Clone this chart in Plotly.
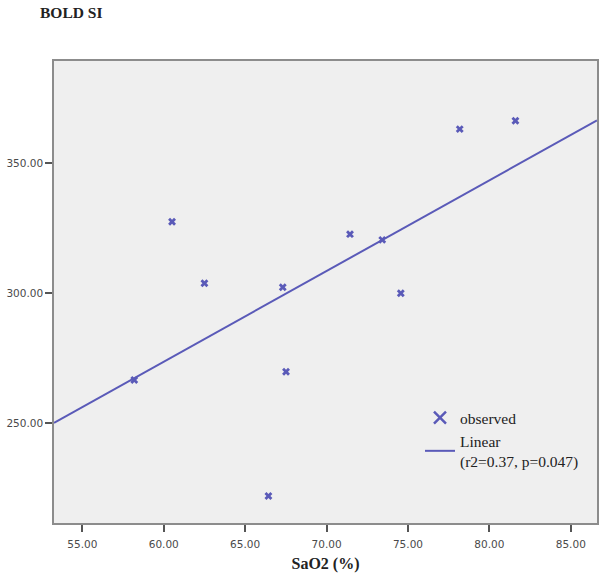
import numpy as np
import plotly.graph_objects as go

# Data
sao2 = [60.51, 62.50, 58.19, 67.31, 67.51, 66.43, 71.44, 73.42, 74.56, 78.18, 81.60]
bold_si = [327.4, 303.7, 266.5, 302.2, 269.7, 221.9, 322.6, 320.4, 299.9, 363.0, 366.2]
x_range = [53.26, 86.61]
y_range = [211.5, 389.2]
x_ticks = [55, 60, 65, 70, 75, 80, 85]
y_ticks = [250, 300, 350]
fit_label = "Linear<br>(r2=0.37, p=0.047)"

color = "#5a5ab8"

slope, intercept = np.polyfit(sao2, bold_si, 1)
line_x = np.array(x_range)
line_y = slope * line_x + intercept

fig = go.Figure()
fig.add_trace(go.Scatter(
    x=sao2, y=bold_si, mode="markers",
    marker=dict(symbol="x", size=7, color=color, line=dict(width=0)),
    showlegend=False, hoverinfo="skip"))
fig.add_trace(go.Scatter(
    x=[None], y=[None], mode="markers", name="observed",
    marker=dict(symbol="x-thin-open", size=12, color=color, line=dict(width=2.5, color=color))))
fig.add_trace(go.Scatter(
    x=line_x, y=line_y, mode="lines", name=fit_label,
    line=dict(color=color, width=2)))

axis_common = dict(
    showgrid=False, zeroline=False, showline=True, mirror=True,
    linecolor="#8c8c8c", linewidth=1.5,
    ticks="outside", ticklen=7, tickwidth=1.5, tickcolor="#555555",
    tickformat=".2f", automargin=False,
    tickfont=dict(family="DejaVu Sans", size=10.5, color="#4a4a4a"),
)

fig.update_layout(
    width=600, height=581,
    margin=dict(l=53.5, r=2.5, t=61, b=58, autoexpand=False),
    paper_bgcolor="white", plot_bgcolor="#efefef",
    xaxis=dict(range=x_range, tickvals=x_ticks, ticklabelstandoff=4,
               title=dict(text="<b>SaO2 (%)</b>", standoff=8,
                          font=dict(family="Liberation Serif", size=16, color="#222222")),
               **axis_common),
    yaxis=dict(range=y_range, tickvals=y_ticks, **axis_common),
    legend=dict(x=0.674, y=0.264, xanchor="left", yanchor="top",
                bgcolor="rgba(0,0,0,0)",
                font=dict(family="Liberation Serif", size=15.5, color="#222222"),
                tracegroupgap=0),
    annotations=[dict(text="<b>BOLD SI</b>", xref="paper", yref="paper",
                      x=-0.029, y=1.0, yshift=49, xanchor="left", yanchor="middle",
                      showarrow=False,
                      font=dict(family="Liberation Serif", size=15.5, color="#222222"))],
)

fig.write_html("out.html", config={"displayModeBar": False},
               post_script="document.body.style.margin='0';")
